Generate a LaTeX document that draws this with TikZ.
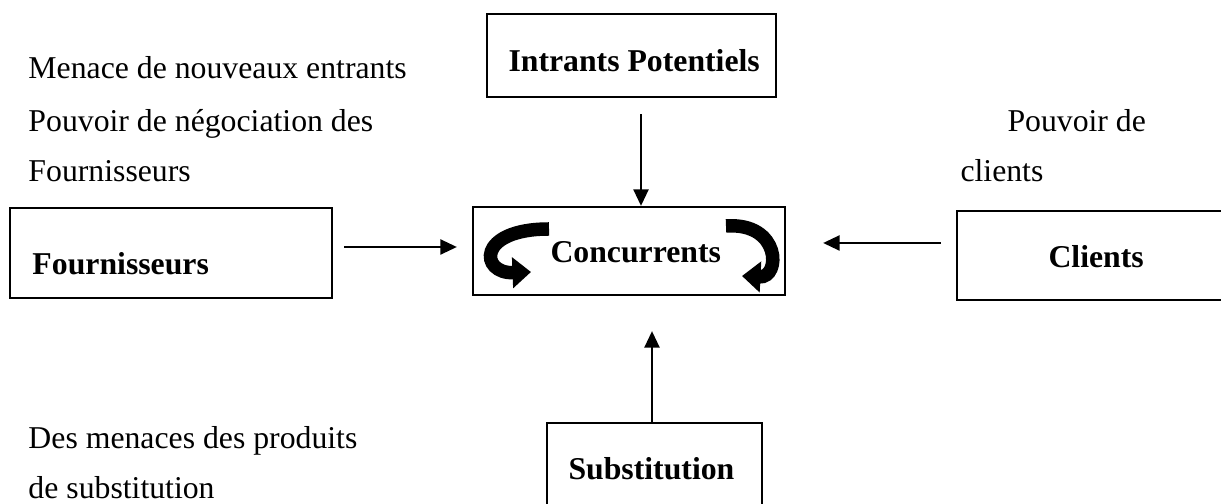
\documentclass[tikz,border=0pt]{standalone}
\usepackage{fontspec}
\setmainfont{Liberation Serif}
\usetikzlibrary{arrows.meta}
\begin{document}
\begin{tikzpicture}[x=0.4pt,y=-0.4pt,
  box/.style={draw, line width=0.9pt, inner sep=0pt},
  txt/.style={anchor=base west, inner sep=0pt, font=\fontsize{12.7}{15}\selectfont},
  btxt/.style={anchor=base west, inner sep=0pt, font=\fontsize{12.7}{15}\selectfont\bfseries},
  arr/.style={line width=0.9pt, -{Triangle[length=6.6pt,width=6pt]}},
  swirl/.style={line width=5.4pt, -{Triangle[length=7.4pt,width=12pt]}}]

\useasboundingbox (0,0) rectangle (1221,504);
\clip (0,0) rectangle (1221,504);

% boxes
\node[box, minimum width=115.6pt, minimum height=33.2pt] (intr) at (631.5,55.5) {};
\node[box, minimum width=124.8pt, minimum height=35.2pt] (conc) at (629,251) {};
\node[box, minimum width=128.8pt, minimum height=36pt]   (four) at (171,253) {};
\node[box, minimum width=113.2pt, minimum height=35.6pt] (cli)  at (1098.5,255.5) {};
\node[box, minimum width=86pt,    minimum height=42.8pt] (subs) at (654.5,476.5) {};

% box titles
\node[btxt] (intrT) at (508,72)  {Intrants Potentiels};
\node[btxt] (concT) at (550,263) {Concurrents};
\node[btxt] (fourT) at (32,275)  {Fournisseurs};
\node[btxt] (cliT)  at (1048,268) {Clients};
\node[btxt] (subsT) at (568,480) {Substitution};

% forces
\node[txt] (m1) at (28,79)  {Menace de nouveaux entrants};
\node[txt] (m2) at (28,132) {Pouvoir de négociation des};
\node[txt] (m3) at (28,182) {Fournisseurs};
\node[txt] (c1) at (1007,132) {Pouvoir de};
\node[txt] (c2) at (960,182)  {clients};
\node[txt] (s1) at (28,449) {Des menaces des produits};
\node[txt] (s2) at (28,499) {de substitution};

% connectors
\draw[arr, shorten <=6.4pt] ([xshift=3.8pt]intr.south) -- ([xshift=3.8pt]intr.south |- conc.north);
\draw[arr, shorten <=4.4pt, shorten >=6pt] ([yshift=2.4pt]four.east) -- ([yshift=2.4pt]four.east -| conc.west);
\draw[arr, shorten <=6pt, shorten >=14.8pt] ([yshift=5pt]cli.west) -- ([yshift=5pt]cli.west -| conc.east);
\draw[arr, shorten >=14pt] ([xshift=-1pt]subs.north) -- ([xshift=-1pt]subs.north |- conc.south);

% rivalry swirls
\draw[swirl] (549,229) .. controls (476,229) and (480,274) .. (531,272);
\draw[swirl] (726,226) .. controls (781,222) and (781,278) .. (742,276);
\end{tikzpicture}
\end{document}
